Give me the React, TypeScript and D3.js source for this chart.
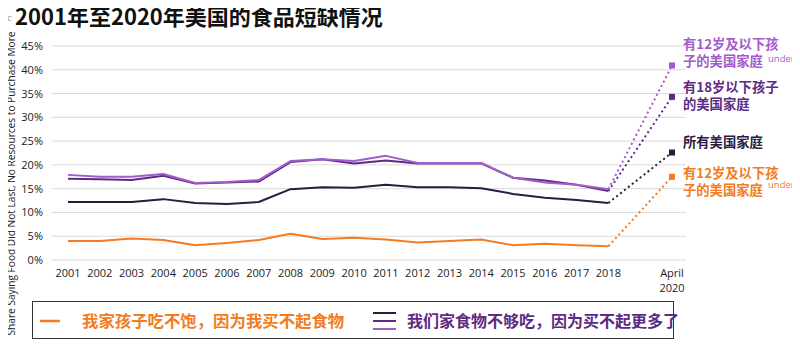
import React from "react";
import * as d3 from "d3";

const years = [2001, 2002, 2003, 2004, 2005, 2006, 2007, 2008, 2009, 2010, 2011, 2012, 2013, 2014, 2015, 2016, 2017, 2018];
const aprilX = 2020;
const yTicks = [0, 5, 10, 15, 20, 25, 30, 35, 40, 45];

const childUnder12NotEating = [4.0, 4.0, 4.5, 4.2, 3.1, 3.6, 4.2, 5.5, 4.4, 4.7, 4.3, 3.7, 4.0, 4.3, 3.1, 3.4, 3.1, 2.9];
const allHouseholds = [12.2, 12.2, 12.2, 12.8, 12.0, 11.8, 12.2, 14.9, 15.3, 15.2, 15.8, 15.3, 15.3, 15.1, 13.9, 13.1, 12.6, 12.0];
const under18Households = [17.1, 17.0, 16.8, 17.7, 16.1, 16.3, 16.5, 20.6, 21.2, 20.3, 20.9, 20.3, 20.3, 20.3, 17.3, 16.7, 15.8, 14.5];
const under12Households = [17.9, 17.5, 17.5, 18.1, 16.2, 16.4, 16.8, 20.8, 21.2, 20.8, 21.9, 20.4, 20.4, 20.4, 17.3, 16.3, 15.8, 14.9];
const april2020 = { child: 17.5, all: 22.6, u18: 34.3, u12: 40.9 };

const C_ORANGE = "#f47b20";
const C_DARK = "#2b1b3f";
const C_PURPLE = "#5d2a84";
const C_LIGHT = "#a25ccb";

const CJK = "'Noto Sans CJK SC', 'Noto Sans', sans-serif";
const LAT = "'Open Sans', 'Noto Sans', sans-serif";

export default function App() {
  const W = 800, H = 353;
  const x = d3.scaleLinear().domain([2001, 2020]).range([68, 672]);
  const y = d3.scaleLinear().domain([0, 45]).range([260, 46]);
  const line = d3.line<[number, number]>().x(d => x(d[0])).y(d => y(d[1]));

  const series = [
    { vals: childUnder12NotEating, end: april2020.child, color: C_ORANGE },
    { vals: allHouseholds, end: april2020.all, color: C_DARK },
    { vals: under18Households, end: april2020.u18, color: C_PURPLE },
    { vals: under12Households, end: april2020.u12, color: C_LIGHT },
  ];

  return (
    <div style={{ margin: -8 }}>
      <svg width={W} height={H} style={{ display: "block", background: "#fff" }}>
        <text x={1} y={4.5} fontSize={5.5} fill="#7aa3a6" fontFamily={LAT}>FIGURE 2</text>
        <text x={1} y={21} fontSize={11} fill="#7aa3a6" fontFamily="serif">Fc</text>
        <text x={15} y={25} fontSize={22} fontWeight="bold" fill="#111" fontFamily={CJK}>2001年至2020年美国的食品短缺情况</text>

        {yTicks.map(t => (
          <g key={t}>
            <line x1={52} x2={686} y1={y(t)} y2={y(t)} stroke="#d9d9d9" strokeWidth={1} />
            <text x={43} y={y(t) + 4} textAnchor="end" fontSize={11} fill="#222" fontFamily={LAT}>{t}%</text>
          </g>
        ))}
        <text transform={`translate(15,${(31 + 336) / 2}) rotate(-90)`} textAnchor="middle" fontSize={11} fill="#222" fontFamily={LAT}
          textLength={304} lengthAdjust="spacingAndGlyphs">
          Share Saying Food Did Not Last, No Resources to Purchase More
        </text>

        {years.map(yr => (
          <text key={yr} x={x(yr)} y={277} textAnchor="middle" fontSize={11} fill="#222" fontFamily={LAT}>{yr}</text>
        ))}
        <text x={x(aprilX)} y={277} textAnchor="middle" fontSize={11} fill="#222" fontFamily={LAT}>April</text>
        <text x={x(aprilX)} y={292} textAnchor="middle" fontSize={11} fill="#222" fontFamily={LAT}>2020</text>

        {series.map((s, i) => {
          const pts: [number, number][] = years.map((yr, j) => [yr, s.vals[j]]);
          const last = pts[pts.length - 1];
          return (
            <g key={i}>
              <path d={line(pts) || ""} fill="none" stroke={s.color} strokeWidth={2} strokeLinejoin="round" />
              <path d={line([last, [aprilX, s.end]]) || ""} fill="none" stroke={s.color} strokeWidth={2} strokeDasharray="2,3" />
              <rect x={x(aprilX) - 3} y={y(s.end) - 3} width={6} height={6} fill={s.color} />
            </g>
          );
        })}

        <g fontFamily={CJK} fontSize={13.3} fontWeight="bold">
          <text x={683} y={49} fill={C_LIGHT}>有12岁及以下孩</text>
          <text x={683} y={66} fill={C_LIGHT}>子的美国家庭</text>
          <text x={768} y={62} fill={C_LIGHT} fontSize={9.5} fontWeight="normal" fontFamily={LAT}>under</text>
          <text x={683} y={92} fill={C_PURPLE}>有18岁以下孩子</text>
          <text x={683} y={109} fill={C_PURPLE}>的美国家庭</text>
          <text x={683} y={147} fill={C_DARK}>所有美国家庭</text>
          <text x={683} y={178} fill={C_ORANGE}>有12岁及以下孩</text>
          <text x={683} y={195} fill={C_ORANGE}>子的美国家庭</text>
          <text x={768} y={188} fill={C_ORANGE} fontSize={9.5} fontWeight="normal" fontFamily={LAT}>under</text>
        </g>

        <rect x={32.5} y={301.5} width={641} height={37} fill="none" stroke="#333" strokeWidth={1} />
        <line x1={40} x2={60} y1={321} y2={321} stroke={C_ORANGE} strokeWidth={2.5} />
        <text x={82} y={327} fontSize={16.4} fontWeight="bold" fill={C_ORANGE} fontFamily={CJK}>我家孩子吃不饱，因为我买不起食物</text>
        <line x1={373} x2={396} y1={313} y2={313} stroke={C_DARK} strokeWidth={2} />
        <line x1={373} x2={396} y1={321} y2={321} stroke={C_PURPLE} strokeWidth={2} />
        <line x1={373} x2={396} y1={329} y2={329} stroke={C_LIGHT} strokeWidth={2} />
        <text x={407} y={327} fontSize={16} fontWeight="bold" fill={C_PURPLE} fontFamily={CJK}>我们家食物不够吃，因为买不起更多了</text>
      </svg>
    </div>
  );
}
